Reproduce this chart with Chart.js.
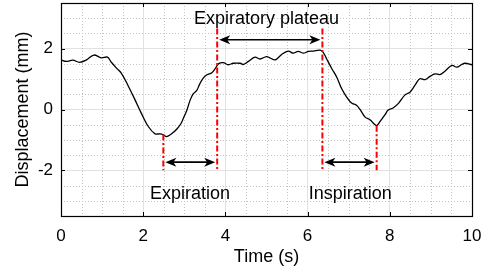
<!DOCTYPE html>
<html><head><meta charset="utf-8">
<style>html,body{margin:0;padding:0;background:#fff}#wrap{width:490px;height:276px}</style>
<script src="https://cdn.jsdelivr.net/npm/chart.js@4/dist/chart.umd.min.js"></script>
</head><body><div id="wrap"><canvas id="c" width="490" height="276"></canvas></div>
<script>
const times = [0.00,0.13,0.29,0.45,0.62,0.80,0.98,1.13,1.22,1.35,1.47,1.63,1.79,1.95,2.12,2.29,2.41,2.49,2.57,2.69,2.82,2.92,2.97,3.06,3.14,3.22,3.30,3.38,3.46,3.55,3.67,3.75,3.83,3.95,4.07,4.19,4.36,4.44,4.56,4.72,4.84,5.00,5.08,5.21,5.37,5.53,5.65,5.77,5.90,6.02,6.14,6.30,6.38,6.46,6.59,6.71,6.83,6.95,7.07,7.19,7.27,7.40,7.52,7.60,7.68,7.76,7.88,7.96,8.08,8.21,8.37,8.49,8.61,8.73,8.86,8.98,9.10,9.22,9.34,9.51,9.63,9.75,9.83,10.00];
const displacement = [1.63,1.58,1.62,1.55,1.63,1.79,1.70,1.72,1.56,1.36,1.19,0.79,0.35,-0.11,-0.55,-0.80,-0.80,-0.83,-0.89,-0.80,-0.64,-0.46,-0.31,-0.03,0.30,0.52,0.62,0.85,1.03,1.14,1.21,1.34,1.50,1.54,1.47,1.52,1.52,1.48,1.58,1.72,1.66,1.74,1.70,1.63,1.81,1.92,1.85,1.91,1.85,1.91,1.92,1.95,1.88,1.67,1.34,1.06,0.68,0.41,0.21,0.14,0.01,-0.25,-0.34,-0.45,-0.53,-0.40,-0.18,-0.02,0.05,0.20,0.48,0.57,0.79,1.01,0.98,1.09,1.17,1.15,1.26,1.45,1.39,1.48,1.52,1.47];
const xTickValues = [0,2,4,6,8,10];
const yTickValues = [-2,0,2];
const minorStep = 0.5;
const markerTimes = [2.49,3.80,6.36,7.68];
const markerTops = [-0.82,2.66,2.66,-0.53];
const markerBottom = -2.0;
const arrowStarts = [3.80,2.49,6.36];
const arrowEnds = [6.36,3.80,7.68];
const arrowLevels = [2.29,-1.73,-1.73];
const labelTexts = ['Expiratory plateau','Expiration','Inspiration'];
const labelTimes = [5.0,3.14,7.04];
const labelLevels = [2.82,-2.94,-2.94];

const FONT = '"Liberation Sans", Arial, Helvetica, sans-serif';
Chart.defaults.font.family = FONT;

function seg(ctx,x1,y1,x2,y2){ctx.beginPath();ctx.moveTo(x1,y1);ctx.lineTo(x2,y2);ctx.stroke();}
function head(ctx,x,y,dir){
  ctx.beginPath();
  ctx.moveTo(x,y);
  ctx.lineTo(x+dir*11,y-4.5);
  ctx.lineTo(x+dir*8,y);
  ctx.lineTo(x+dir*11,y+4.5);
  ctx.closePath();ctx.fill();
}

const overlay = {
  id:'overlay',
  beforeDatasetsDraw(chart){
    const {ctx, chartArea:a, scales:{x,y}} = chart;
    ctx.save();
    ctx.strokeStyle='#c2c2c2';ctx.lineWidth=1;ctx.setLineDash([1,2]);
    const nx=Math.round((x.max-x.min)/minorStep);
    for(let i=1;i<nx;i++){const v=x.min+i*minorStep; if(xTickValues.some(t=>Math.abs(t-v)<1e-6))continue;
      const px=Math.round(x.getPixelForValue(v))+0.5; seg(ctx,px,a.top,px,a.bottom);}
    const ny=Math.round((y.max-y.min)/minorStep);
    for(let i=1;i<ny;i++){const v=y.min+i*minorStep; if(yTickValues.some(t=>Math.abs(t-v)<1e-6))continue;
      const py=Math.round(y.getPixelForValue(v))+0.5; seg(ctx,a.left,py,a.right,py);}
    ctx.restore();
  },
  afterDatasetsDraw(chart){
    const {ctx, chartArea:a, scales:{x,y}} = chart;
    ctx.save();
    ctx.strokeStyle='#ff0000';ctx.lineWidth=2;ctx.setLineDash([6,2.5,2,2.5]);
    markerTimes.forEach((t,i)=>{const px=x.getPixelForValue(t); seg(ctx,px,y.getPixelForValue(markerTops[i]),px,y.getPixelForValue(markerBottom));});
    ctx.setLineDash([]);
    ctx.strokeStyle='#000';ctx.fillStyle='#000';ctx.lineWidth=1.6;
    arrowStarts.forEach((s,i)=>{
      const x1=x.getPixelForValue(s)+2, x2=x.getPixelForValue(arrowEnds[i])-2, py=y.getPixelForValue(arrowLevels[i]);
      seg(ctx,x1+6,py,x2-6,py); head(ctx,x1,py,1); head(ctx,x2,py,-1);
    });
    ctx.font='18px '+FONT;ctx.textAlign='center';ctx.textBaseline='alphabetic';ctx.fillStyle='#000';
    labelTexts.forEach((txt,i)=>ctx.fillText(txt,x.getPixelForValue(labelTimes[i]),y.getPixelForValue(labelLevels[i])));
    ctx.lineWidth=1.2;ctx.strokeStyle='#000';
    ctx.strokeRect(Math.round(a.left)+0.5,Math.round(a.top)+0.5,Math.round(a.right-a.left),Math.round(a.bottom-a.top));
    const tl=4;ctx.lineWidth=1;
    xTickValues.forEach(v=>{const px=Math.round(x.getPixelForValue(v))+0.5; seg(ctx,px,a.top,px,a.top+tl); seg(ctx,px,a.bottom,px,a.bottom-tl);});
    yTickValues.forEach(v=>{const py=Math.round(y.getPixelForValue(v))+0.5; seg(ctx,a.left,py,a.left+tl,py); seg(ctx,a.right,py,a.right-tl,py);});
    ctx.restore();
  }
};

new Chart(document.getElementById('c'),{
  type:'line',
  data:{datasets:[{data:times.map((t,i)=>({x:t,y:displacement[i]})),borderColor:'#000',borderWidth:1.3,pointRadius:0,tension:0.35,fill:false}]},
  options:{
    responsive:false,animation:false,devicePixelRatio:1,
    layout:{padding:{top:3,right:18,left:0,bottom:0}},
    plugins:{legend:{display:false},tooltip:{enabled:false}},
    scales:{
      x:{type:'linear',min:0,max:10,
        afterBuildTicks:s=>{s.ticks=xTickValues.map(v=>({value:v}));},
        afterFit:s=>{s.height=60;s.paddingLeft=0;s.paddingRight=0;},
        grid:{color:'#e2e2e2',drawTicks:false,lineWidth:1},border:{display:false},
        ticks:{padding:10,color:'#000',font:{size:17},maxRotation:0,autoSkip:false},
        title:{display:true,text:'Time (s)',color:'#000',font:{size:18},padding:{top:0,bottom:8}}},
      y:{type:'linear',min:-3.5,max:3.5,
        afterBuildTicks:s=>{s.ticks=yTickValues.map(v=>({value:v}));},
        afterFit:s=>{s.width=61;s.paddingTop=0;s.paddingBottom=0;},
        grid:{color:'#e2e2e2',drawTicks:false,lineWidth:1},border:{display:false},
        ticks:{padding:8,color:'#000',font:{size:17}},
        title:{display:true,text:'Displacement (mm)',color:'#000',font:{size:18},padding:{top:12,bottom:0}}}
    }
  },
  plugins:[overlay]
});
</script></body></html>
